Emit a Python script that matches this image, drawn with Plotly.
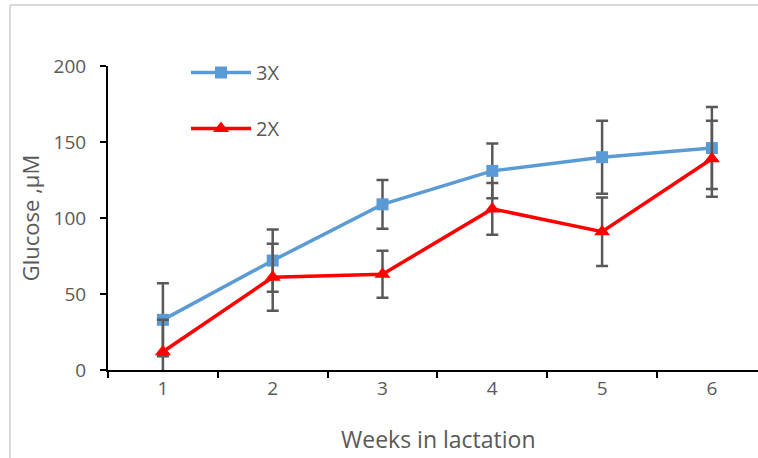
import plotly.graph_objects as go

weeks = ["1", "2", "3", "4", "5", "6"]
glucose_3x = [33, 72, 109, 131, 140, 146]
err_3x = [24, 20.5, 16, 18, 24, 27]
glucose_2x = [12, 61, 63, 106, 91, 139]
err_2x = [21, 22, 15.5, 17, 22.5, 25]

W, H = 758, 458
L, R, T, B = 108, 0, 66, 88
pw, ph = W - L - R, H - T - B

def px_x(p):
    return (p - L) / pw

def px_y(p):
    return (H - B - p) / ph

grey = "#595959"
font = "Open Sans"

fig = go.Figure()
fig.add_trace(go.Scatter(
    x=weeks, y=glucose_3x, name="3X", mode="lines+markers", legendgroup="a",
    line=dict(color="#5B9BD5", width=3.5),
    marker=dict(symbol="square", size=12, color="#5B9BD5"),
    error_y=dict(type="data", array=err_3x, color=grey, thickness=2.5, width=6),
))
fig.add_trace(go.Scatter(
    x=weeks, y=glucose_2x, name="2X", mode="lines+markers", legendgroup="b",
    line=dict(color="#FF0000", width=3.5),
    marker=dict(symbol="triangle-up", size=14, color="#FF0000"),
    error_y=dict(type="data", array=err_2x, color=grey, thickness=2.5, width=6),
))

fig.update_layout(
    width=W, height=H,
    margin=dict(l=L, r=R, t=T, b=B),
    paper_bgcolor="white", plot_bgcolor="white",
    font=dict(family=font, color=grey, size=19),
    showlegend=True,
    legend=dict(x=px_x(186), y=px_y(53), xanchor="left", yanchor="top",
                bgcolor="rgba(0,0,0,0)", font=dict(size=20, color=grey),
                tracegroupgap=27, traceorder="grouped", itemwidth=60),
    xaxis=dict(type="category", range=[-0.5, -0.5 + pw / 109.8],
               showline=True, linecolor="black", linewidth=2,
               ticks="outside", tickson="boundaries", ticklen=6, tickwidth=2, tickcolor="black",
               showgrid=False, zeroline=False, tickfont=dict(size=19, color=grey)),
    yaxis=dict(range=[0, 200], tickvals=[0, 50, 100, 150, 200],
               showline=True, linecolor="black", linewidth=2,
               ticks="outside", ticklen=6, tickwidth=2, tickcolor="black",
               showgrid=False, zeroline=False, tickfont=dict(size=19, color=grey),
               ticklabelstandoff=10,
               title=dict(text="Glucose ,μM", font=dict(size=22, color=grey), standoff=8)),
    shapes=[
        dict(type="line", xref="paper", yref="paper", x0=px_x(10), x1=px_x(10),
             y0=px_y(5), y1=px_y(458), line=dict(color="#D9D9D9", width=2)),
        dict(type="line", xref="paper", yref="paper", x0=px_x(10), x1=px_x(758),
             y0=px_y(5), y1=px_y(5), line=dict(color="#D9D9D9", width=2)),
    ],
    annotations=[
        dict(text="Weeks in lactation", xref="paper", yref="paper",
             x=px_x(438), y=px_y(439), xanchor="center", yanchor="middle",
             showarrow=False, font=dict(size=23, color=grey)),
    ],
)

fig.write_html("out.html", config={"displayModeBar": False},
               post_script="document.body.style.margin='0';document.body.style.overflow='hidden';")
